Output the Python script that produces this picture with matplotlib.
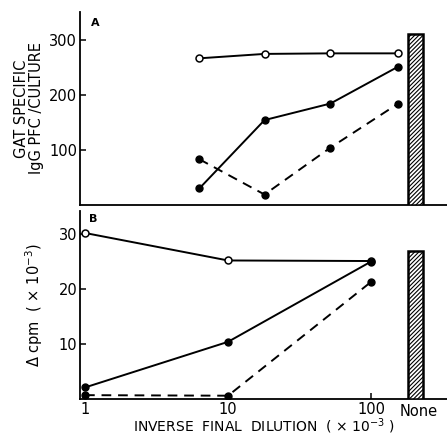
import numpy as np
import matplotlib
matplotlib.use("Agg")
import matplotlib.pyplot as plt

# ---- data ----
# Panel A (GAT specific IgG PFC/culture)
a_x = [6.3, 18.0, 52.0, 155.0]
a_open = [266, 274, 275, 275]
a_solid = [30, 154, 184, 251]
a_dashed = [83, 19, 104, 184]
a_none = 310

# Panel B (delta cpm x 10^-3)
b_x = [1, 10, 100]
b_open = [30.2, 25.2, 25.1]
b_solid = [2.1, 10.4, 25.0]
b_dashed = [0.7, 0.6, 21.3]
b_none = 27.0

a_yticks = [100, 200, 300]
b_yticks = [10, 20, 30]
b_xticks = [1, 10, 100]
b_xticklabels = ["1", "10", "100"]

# ---- layout ----
W, H = 447, 436
plt.rcParams['font.family'] = ['DejaVu Sans']
plt.rcParams['hatch.linewidth'] = 0.8
fig = plt.figure(figsize=(W / 100, H / 100), dpi=100)

left = 80 / W
width = 1 - left
axA = fig.add_axes([left, 1 - 205 / H, width, (205 - 12) / H])
axB = fig.add_axes([left, 1 - 399 / H, width, (399 - 211) / H])

xlim = (10 ** -0.035, 10 ** 2.531)
bar_c = 2.311
bar_hw = 0.052

lw = 1.4
ms = 5
dash = (0, (5, 3.5))

def style(ax):
    ax.set_xscale('log')
    ax.set_xlim(*xlim)
    for s in ['top', 'right']:
        ax.spines[s].set_visible(False)
    for s in ['left', 'bottom']:
        ax.spines[s].set_linewidth(1.3)
    ax.tick_params(axis='both', which='major', direction='in', length=4,
                   width=1.1, labelsize=10.5, pad=2)
    ax.tick_params(axis='x', which='minor', bottom=False)

def draw_bar(ax, h):
    l = 10 ** (bar_c - bar_hw)
    r = 10 ** (bar_c + bar_hw)
    ax.bar([10 ** bar_c], [h], width=[r - l], align='center',
           facecolor='white', edgecolor='black', hatch='////////', linewidth=1.8,
           zorder=3)

# Panel A
style(axA)
axA.set_ylim(0, 350)
axA.set_yticks(a_yticks)
axA.set_xticks([])
axA.tick_params(axis='x', which='both', bottom=False, labelbottom=False)
axA.plot(a_x, a_open, '-', color='black', lw=lw, marker='o', ms=ms,
         mfc='white', mec='black', mew=1.1)
axA.plot(a_x, a_solid, '-', color='black', lw=lw, marker='o', ms=ms,
         mfc='black', mec='black')
axA.plot(a_x, a_dashed, linestyle=dash, color='black', lw=lw, marker='o',
         ms=ms, mfc='black', mec='black')
draw_bar(axA, a_none)
axA.text(0.03, 0.97, 'A', transform=axA.transAxes, fontsize=8,
         fontweight='bold', va='top', ha='left')
axA.set_ylabel('GAT SPECIFIC\nIgG PFC /CULTURE', fontsize=10.5,
               linespacing=1.0, labelpad=4)

# Panel B
style(axB)
axB.set_ylim(0, 34.2)
axB.set_yticks(b_yticks)
axB.set_xticks(b_xticks)
axB.set_xticklabels(b_xticklabels)
axB.plot(b_x, b_open, '-', color='black', lw=lw, marker='o', ms=ms,
         mfc='white', mec='black', mew=1.1)
axB.plot(b_x, b_solid, '-', color='black', lw=lw, marker='o', ms=ms,
         mfc='black', mec='black')
axB.plot(b_x, b_dashed, linestyle=dash, color='black', lw=lw, marker='o',
         ms=ms, mfc='black', mec='black')
draw_bar(axB, b_none)
axB.text(10 ** (bar_c + 0.02), -0.025, 'None', transform=axB.get_xaxis_transform(),
         ha='center', va='top', fontsize=10.5)
axB.text(0.025, 0.985, 'B', transform=axB.transAxes, fontsize=8,
         fontweight='bold', va='top', ha='left')
axB.set_ylabel(r'$\Delta$ cpm  ( $\times$ 10$^{-3}$)', fontsize=10.5,
               labelpad=10)
axB.set_xlabel(r'INVERSE  FINAL  DILUTION  ( $\times$ 10$^{-3}$ )',
               fontsize=10, labelpad=0)

fig.savefig('out.png', dpi=100)
